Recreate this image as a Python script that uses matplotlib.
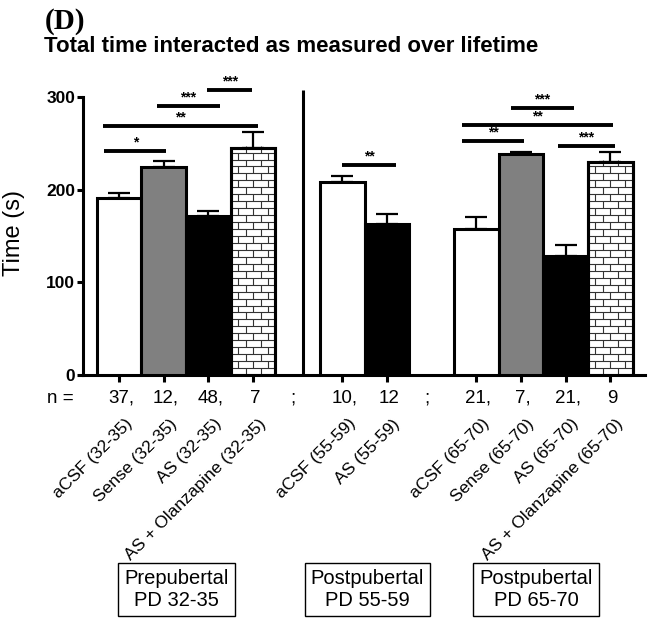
import numpy as np
import matplotlib.pyplot as plt
import matplotlib.transforms as mtransforms
from matplotlib.collections import LineCollection

plt.rcParams['font.family'] = ['Liberation Sans', 'DejaVu Sans']

# data
group_names = ['Prepubertal\nPD 32-35', 'Postpubertal\nPD 55-59', 'Postpubertal\nPD 65-70']
group_sizes = [4, 2, 4]
labels = ['aCSF (32-35)', 'Sense (32-35)', 'AS (32-35)', 'AS + Olanzapine (32-35)',
          'aCSF (55-59)', 'AS (55-59)',
          'aCSF (65-70)', 'Sense (65-70)', 'AS (65-70)', 'AS + Olanzapine (65-70)']
treatment = ['aCSF', 'Sense', 'AS', 'AS+Olz', 'aCSF', 'AS', 'aCSF', 'Sense', 'AS', 'AS+Olz']
means = [191, 224, 172, 245, 208, 163, 158, 238, 128, 230]
sems = [5, 7, 5, 17, 7, 11, 12.5, 3, 12, 11]
n_counts = [37, 12, 48, 7, 10, 12, 21, 7, 21, 9]

# significance brackets (x in bar-slot units, y in seconds)
sig_x0 = [-0.33, -0.36, 0.85, 1.97, 4.99, 7.69, 7.69, 8.78, 9.84]
sig_x1 = [1.05, 3.10, 2.25, 2.98, 6.20, 9.08, 11.06, 10.18, 11.10]
sig_y = [241.6, 268.5, 290.6, 307.5, 226.6, 252.5, 269.8, 288.5, 247.5]
sig_text = ['*', '**', '***', '***', '**', '**', '**', '***', '***']

face = {'aCSF': 'white', 'Sense': '#808080', 'AS': 'black', 'AS+Olz': 'white'}

# bar slots: one empty slot between groups
x = []
start = 0
for size in group_sizes:
    x += list(range(start, start + size))
    start += size + 1
x = np.array(x, dtype=float)
gaps = [x[sum(group_sizes[:i + 1]) - 1] + 1 for i in range(len(group_sizes) - 1)]

fig = plt.figure(figsize=(6.53, 6.19), dpi=100)
ax = fig.add_axes([83 / 653, 1 - 375 / 619, 562 / 653, 278 / 619])

ax.errorbar(x, means, yerr=[np.zeros(len(sems)), sems], fmt='none', ecolor='black',
            elinewidth=1.6, capsize=8, capthick=1.6, zorder=2)
bars = ax.bar(x, means, width=1.0, color=[face[t] for t in treatment],
              edgecolor='black', linewidth=2.2, zorder=3)

# brick pattern for the olanzapine bars
row_h = 7.5
for b, t in zip(bars, treatment):
    if t != 'AS+Olz':
        continue
    x0, w, h = b.get_x(), b.get_width(), b.get_height()
    segs = []
    nrows = int(np.ceil(h / row_h))
    for i in range(nrows):
        y0 = i * row_h
        segs.append([(x0, y0), (x0 + w, y0)])
        off = 0.5 if i % 2 else 0.0
        for k in range(4):
            xv = x0 + (k + off) * w / 3
            if x0 < xv < x0 + w:
                segs.append([(xv, y0), (xv, y0 + row_h)])
    lc = LineCollection(segs, colors='#333333', linewidths=0.8, zorder=3.5)
    lc.set_clip_path(b)
    ax.add_collection(lc)
    ax.bar(b.get_x() + w / 2, h, width=w, fill=False, edgecolor='black', linewidth=2.2, zorder=4)

# separator between prepubertal and postpubertal
ax.plot([gaps[0] + 0.12] * 2, [0, 307.5], color='black', lw=2.2, clip_on=False,
        solid_capstyle='butt', zorder=3)

for x0, x1, y, s in zip(sig_x0, sig_x1, sig_y, sig_text):
    ax.plot([x0, x1], [y, y], color='black', lw=2.8, clip_on=False, solid_capstyle='butt')
    ax.text((x0 + x1) / 2, y + 9, s, ha='center', va='center', fontsize=10,
            fontweight='bold', clip_on=False)

ax.set_xlim(-0.81, 11.78)
ax.set_ylim(0, 300)
ax.set_yticks([0, 100, 200, 300])
ax.set_xticks(x)
ax.set_xticklabels([])
for lab in ax.get_yticklabels():
    lab.set_fontweight('bold')
ax.tick_params(axis='y', direction='out', length=4.5, width=2.2, labelsize=12.5, pad=1)
ax.tick_params(axis='x', direction='out', length=5, width=2.2)
for side in ['top', 'right']:
    ax.spines[side].set_visible(False)
for side in ['left', 'bottom']:
    ax.spines[side].set_linewidth(2.2)

ax.text(-0.122, 0.51, 'Time (s)', rotation=90, ha='center', va='center',
        transform=ax.transAxes, fontsize=17)

trans = mtransforms.blended_transform_factory(ax.transData, ax.transAxes)

# n row
ax.text(-1.32, -0.083, 'n =', ha='center', va='center', transform=trans, fontsize=13.5)
idx = 0
for gi, size in enumerate(group_sizes):
    for j in range(size):
        s = str(n_counts[idx]) + (',' if j < size - 1 else '')
        ax.text(x[idx] + 0.05, -0.083, s, ha='center', va='center', transform=trans,
                fontsize=13.5)
        idx += 1
for g in gaps:
    ax.text(g - 0.1, -0.083, ';', ha='center', va='center', transform=trans, fontsize=13.5)

for xi, lab in zip(x, labels):
    ax.text(xi + 0.12, -0.148, lab, rotation=45, ha='right', va='top', rotation_mode='anchor',
            transform=trans, fontsize=12.5)

trans_box = mtransforms.blended_transform_factory(ax.transData, fig.transFigure)
box_x = [1.28, 5.56, 9.34]
for bx, name in zip(box_x, group_names):
    ax.text(bx, 0.0477, name, ha='center', va='center', multialignment='center',
            transform=trans_box, fontsize=14.5, linespacing=1.15,
            bbox=dict(boxstyle='square,pad=0.3', fc='white', ec='black', lw=1))

fig.text(45 / 653, 1 - 8 / 619, '(D)', family='Liberation Serif', fontweight='bold',
         fontsize=21, va='top')
fig.text(44 / 653, 1 - 36 / 619, 'Total time interacted as measured over lifetime',
         fontweight='bold', fontsize=16, va='top')

fig.savefig('out.png', dpi=100)
